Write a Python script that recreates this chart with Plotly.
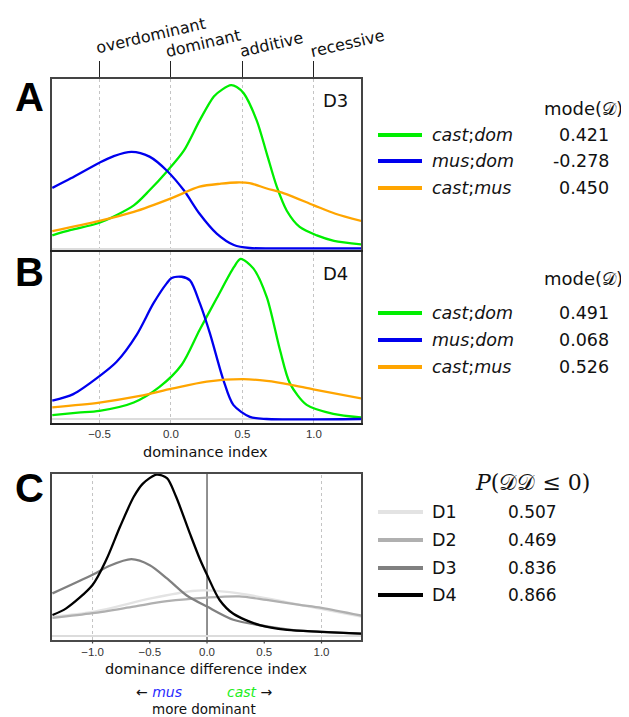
import plotly.graph_objects as go

# page body has an 8px margin, so the figure is drawn 8px smaller and all layout
# positions below are given in window pixels and shifted by that margin
OFF = 8
W, H = 629 - OFF, 717 - OFF

# ---------------- data (densities) ----------------
# Panel A : D3
a_cast_dom_x = [-0.83, -0.70, -0.50, -0.26, -0.15, -0.03, 0.09, 0.20, 0.30, 0.36, 0.42, 0.46, 0.51, 0.60, 0.67, 0.74, 0.81, 0.90, 1.02, 1.14, 1.33]
a_cast_dom_y = [0.22, 0.31, 0.43, 0.72, 0.97, 1.28, 1.63, 2.13, 2.53, 2.65, 2.72, 2.69, 2.58, 2.13, 1.58, 1.03, 0.63, 0.36, 0.22, 0.13, 0.07]
a_mus_dom_x = [-0.83, -0.70, -0.50, -0.40, -0.275, -0.15, -0.03, 0.09, 0.20, 0.32, 0.44, 0.55, 0.80, 1.33]
a_mus_dom_y = [1.01, 1.17, 1.43, 1.54, 1.61, 1.53, 1.30, 0.97, 0.58, 0.25, 0.06, 0.01, 0.005, 0.005]
a_cast_mus_x = [-0.83, -0.50, -0.26, 0.005, 0.20, 0.35, 0.46, 0.55, 0.67, 0.79, 1.00, 1.15, 1.33]
a_cast_mus_y = [0.29, 0.46, 0.61, 0.84, 1.03, 1.08, 1.10, 1.09, 1.00, 0.92, 0.72, 0.58, 0.46]

# Panel B : D4
b_cast_dom_x = [-0.83, -0.65, -0.50, -0.26, -0.08, 0.075, 0.20, 0.32, 0.44, 0.487, 0.576, 0.67, 0.762, 0.832, 0.949, 1.135, 1.33]
b_cast_dom_y = [0.07, 0.11, 0.14, 0.28, 0.54, 0.91, 1.49, 2.02, 2.54, 2.68, 2.52, 2.04, 1.16, 0.60, 0.24, 0.09, 0.03]
b_mus_dom_x = [-0.83, -0.683, -0.50, -0.38, -0.24, -0.124, -0.03, 0.005, 0.075, 0.133, 0.203, 0.273, 0.366, 0.436, 0.552, 0.669, 1.33]
b_mus_dom_y = [0.31, 0.42, 0.72, 0.96, 1.41, 1.93, 2.27, 2.36, 2.38, 2.32, 1.93, 1.43, 0.66, 0.24, 0.04, 0.005, 0.005]
b_cast_mus_x = [-0.83, -0.50, -0.217, 0.005, 0.25, 0.506, 0.669, 0.832, 0.995, 1.33]
b_cast_mus_y = [0.20, 0.28, 0.39, 0.51, 0.63, 0.67, 0.64, 0.58, 0.50, 0.35]

# Panel C : dominance difference
c_d1_x = [-1.35, -1.0, -0.48, -0.13, 0.0, 0.28, 0.68, 0.97, 1.35]
c_d1_y = [0.32, 0.40, 0.63, 0.75, 0.76, 0.71, 0.57, 0.46, 0.32]
c_d2_x = [-1.35, -1.0, -0.64, -0.35, 0.0, 0.28, 0.52, 0.81, 1.0, 1.35]
c_d2_y = [0.30, 0.38, 0.49, 0.58, 0.64, 0.66, 0.60, 0.52, 0.47, 0.34]
c_d3_x = [-1.35, -1.0, -0.85, -0.66, -0.50, -0.35, -0.18, 0.0, 0.23, 0.52, 0.70, 0.81, 1.35]
c_d3_y = [0.71, 1.02, 1.17, 1.28, 1.18, 0.96, 0.68, 0.49, 0.27, 0.16, 0.11, 0.09, 0.04]
c_d4_x = [-1.35, -1.23, -1.0, -0.88, -0.76, -0.64, -0.56, -0.44, -0.35, -0.27, -0.15, -0.06, 0.0, 0.11, 0.23, 0.46, 0.70, 0.99, 1.35]
c_d4_y = [0.35, 0.46, 0.85, 1.27, 1.82, 2.32, 2.54, 2.69, 2.63, 2.32, 1.71, 1.27, 1.02, 0.60, 0.37, 0.18, 0.10, 0.07, 0.04]

series_names = ["cast;dom", "mus;dom", "cast;mus"]
series_colors = ["#00ee00", "#0000ee", "#ffa500"]
mode_a = [0.421, -0.278, 0.450]
mode_b = [0.491, 0.068, 0.526]
c_names = ["D1", "D2", "D3", "D4"]
c_colors = ["#e3e3e3", "#b0b0b0", "#808080", "#000000"]
p_le0 = [0.507, 0.469, 0.836, 0.866]

top_tick_vals = [-0.5, 0.0, 0.5, 1.0]
top_tick_text = ["overdominant", "dominant", "additive", "recessive"]
ab_tick_vals = [-0.5, 0.0, 0.5, 1.0]
c_tick_vals = [-1.0, -0.5, 0.0, 0.5, 1.0]


def fmt_tick(v):
    s = "%.1f" % abs(v)
    return ("\u2212" + s) if v < 0 else s


def px(x):
    return (x - OFF) / W


def py(y):
    return 1 - (y - OFF) / H


fig = go.Figure()

panel_a = [(a_cast_dom_x, a_cast_dom_y), (a_mus_dom_x, a_mus_dom_y), (a_cast_mus_x, a_cast_mus_y)]
panel_b = [(b_cast_dom_x, b_cast_dom_y), (b_mus_dom_x, b_mus_dom_y), (b_cast_mus_x, b_cast_mus_y)]
for (xs, ys), col in zip(panel_a, series_colors):
    fig.add_trace(go.Scatter(x=xs, y=ys, mode="lines", line=dict(color=col, width=2.3, shape="spline", smoothing=0.8),
                             xaxis="x", yaxis="y", showlegend=False, hoverinfo="skip"))
for (xs, ys), col in zip(panel_b, series_colors):
    fig.add_trace(go.Scatter(x=xs, y=ys, mode="lines", line=dict(color=col, width=2.3, shape="spline", smoothing=0.8),
                             xaxis="x2", yaxis="y2", showlegend=False, hoverinfo="skip"))
panel_c = [(c_d1_x, c_d1_y), (c_d2_x, c_d2_y), (c_d3_x, c_d3_y), (c_d4_x, c_d4_y)]
for (xs, ys), col in zip(panel_c, c_colors):
    fig.add_trace(go.Scatter(x=xs, y=ys, mode="lines", line=dict(color=col, width=2.3, shape="spline", smoothing=0.8),
                             xaxis="x3", yaxis="y3", showlegend=False, hoverinfo="skip"))

xdom = [px(52), px(361)]
LC = "#333"
grid = dict(showgrid=True, gridcolor="#c4c4c4", gridwidth=1, griddash="3px,3px")
yax = dict(showticklabels=False, ticks="", showgrid=False, zeroline=True, zerolinecolor="#dcdcdc", zerolinewidth=2,
           showline=True, mirror=True, linecolor="#444", linewidth=1.6)
tickfont = dict(family="Liberation Sans", size=11.5, color="#333")

fig.update_layout(
    width=W, height=H, margin=dict(l=0, r=0, t=0, b=0),
    paper_bgcolor="white", plot_bgcolor="white",
    xaxis=dict(domain=xdom, anchor="y", side="top", range=[-0.832, 1.329], tickvals=top_tick_vals,
               showticklabels=False, ticks="outside", ticklen=16, tickcolor="#222", tickwidth=1,
               zeroline=False, showline=True, mirror=False, linecolor="#444", linewidth=1.6, **grid),
    yaxis=dict(domain=[py(251.6), py(78.7)], anchor="x", range=[-0.05, 2.827], **yax),
    xaxis2=dict(domain=xdom, anchor="y2", range=[-0.832, 1.329], tickvals=ab_tick_vals,
                ticktext=[fmt_tick(v) for v in ab_tick_vals], ticks="", tickfont=tickfont,
                zeroline=False, showline=True, mirror=True, linecolor="#222", linewidth=1.6, **grid),
    yaxis2=dict(domain=[py(422.7), py(251.6)], anchor="x2", range=[-0.057, 2.80], **yax),
    xaxis3=dict(domain=xdom, anchor="y3", range=[-1.354, 1.345], tickvals=c_tick_vals,
                ticktext=[fmt_tick(v) for v in c_tick_vals], ticks="", tickfont=tickfont,
                showgrid=False, zeroline=False, showline=True, mirror=True, linecolor="#4a4a4a", linewidth=2),
    yaxis3=dict(domain=[py(640), py(474)], anchor="x3", range=[-0.067, 2.70], **yax),
)

# reference lines in panel C
for v in [-1.0, 1.0]:
    fig.add_shape(type="line", xref="x3", yref="y3 domain", x0=v, x1=v, y0=0, y1=1,
                  line=dict(color="#c4c4c4", width=1, dash="3px,3px"), layer="below")
fig.add_shape(type="line", xref="x3", yref="y3 domain", x0=0, x1=0, y0=0, y1=1,
              line=dict(color="#555", width=1.3), layer="below")
# short tick marks under panel C
for v in c_tick_vals:
    fig.add_shape(type="line", xref="x3", yref="paper", x0=v, x1=v, y0=py(640), y1=py(643.5),
                  line=dict(color="#444", width=1.2))

ann = []
sans = "DejaVu Sans"

# top category labels
top_pos = [(92, 60), (161, 64), (235, 63), (306, 64)]
for t, (x0, y0) in zip(top_tick_text, top_pos):
    ann.append(dict(text=t, xref="paper", yref="paper", x=px(x0), y=py(y0), xanchor="left", yanchor="bottom",
                    textangle=-13, showarrow=False, font=dict(family=sans, size=16, color="#111")))

# panel letters
for letter, yc in [("A", 97), ("B", 272), ("C", 488)]:
    ann.append(dict(text="<b>%s</b>" % letter, xref="paper", yref="paper", x=px(29), y=py(yc),
                    xanchor="center", yanchor="middle", showarrow=False,
                    font=dict(family="Liberation Sans", size=40, color="#000")))

# D3 / D4 labels
ann.append(dict(text="D3", xref="paper", yref="paper", x=px(350), y=py(100), xanchor="right", yanchor="middle",
                showarrow=False, font=dict(family=sans, size=18, color="#111")))
ann.append(dict(text="D4", xref="paper", yref="paper", x=px(350), y=py(273), xanchor="right", yanchor="middle",
                showarrow=False, font=dict(family=sans, size=18, color="#111")))

# axis titles and bottom notes
ann.append(dict(text="dominance index", xref="paper", yref="paper", x=px(205), y=py(452), xanchor="center",
                yanchor="middle", showarrow=False, font=dict(family=sans, size=14.5, color="#111")))
ann.append(dict(text="dominance difference index", xref="paper", yref="paper", x=px(206), y=py(669),
                xanchor="center", yanchor="middle", showarrow=False, font=dict(family=sans, size=14.5, color="#111")))
ann.append(dict(text="\u2190 <i><span style='color:#2a2aff'>mus</span></i>", xref="paper", yref="paper",
                x=px(134), y=py(692), xanchor="left", yanchor="middle", showarrow=False,
                font=dict(family=sans, size=14, color="#111")))
ann.append(dict(text="<i><span style='color:#22ee22'>cast</span></i> \u2192", xref="paper", yref="paper",
                x=px(275), y=py(692), xanchor="right", yanchor="middle", showarrow=False,
                font=dict(family=sans, size=14, color="#111")))
ann.append(dict(text="more dominant", xref="paper", yref="paper", x=px(204), y=py(709), xanchor="center",
                yanchor="middle", showarrow=False, font=dict(family=sans, size=13.5, color="#111")))


def legend_block(header_y, rows_y, names, colors, values):
    ann.append(dict(text="mode(<span style='font-family:DejaVu Serif'>\U0001D49F</span>)", xref="paper",
                    yref="paper", x=px(542), y=py(header_y), xanchor="left", yanchor="middle", showarrow=False,
                    font=dict(family=sans, size=18, color="#111")))
    for ry, n, c, v in zip(rows_y, names, colors, values):
        fig.add_shape(type="line", xref="paper", yref="paper", x0=px(378), x1=px(422), y0=py(ry), y1=py(ry),
                      line=dict(color=c, width=4))
        a, b = n.split(";")
        ann.append(dict(text="<i>%s</i>;<i>%s</i>" % (a, b), xref="paper", yref="paper", x=px(430), y=py(ry),
                        xanchor="left", yanchor="middle", showarrow=False,
                        font=dict(family=sans, size=17.5, color="#111")))
        ann.append(dict(text="%.3f" % v, xref="paper", yref="paper", x=px(611), y=py(ry),
                        xanchor="right", yanchor="middle", showarrow=False,
                        font=dict(family=sans, size=17.5, color="#111")))


legend_block(108, [135, 161, 188], series_names, series_colors, mode_a)
legend_block(278, [313, 340, 367], series_names, series_colors, mode_b)

ann.append(dict(text="<i>P</i>(\U0001D49F\U0001D49F \u2264 0)", xref="paper", yref="paper", x=px(532), y=py(482),
                xanchor="center", yanchor="middle", showarrow=False,
                font=dict(family="DejaVu Serif", size=22, color="#111")))
for ry, n, c, v in zip([512, 540, 568, 595], c_names, c_colors, p_le0):
    fig.add_shape(type="line", xref="paper", yref="paper", x0=px(378), x1=px(423), y0=py(ry), y1=py(ry),
                  line=dict(color=c, width=4))
    ann.append(dict(text=n, xref="paper", yref="paper", x=px(430), y=py(ry), xanchor="left", yanchor="middle",
                    showarrow=False, font=dict(family=sans, size=17.5, color="#111")))
    ann.append(dict(text="%.3f" % v, xref="paper", yref="paper", x=px(506), y=py(ry), xanchor="left",
                    yanchor="middle", showarrow=False, font=dict(family=sans, size=17, color="#111")))

fig.update_layout(annotations=ann)
fig.write_html("out.html")
